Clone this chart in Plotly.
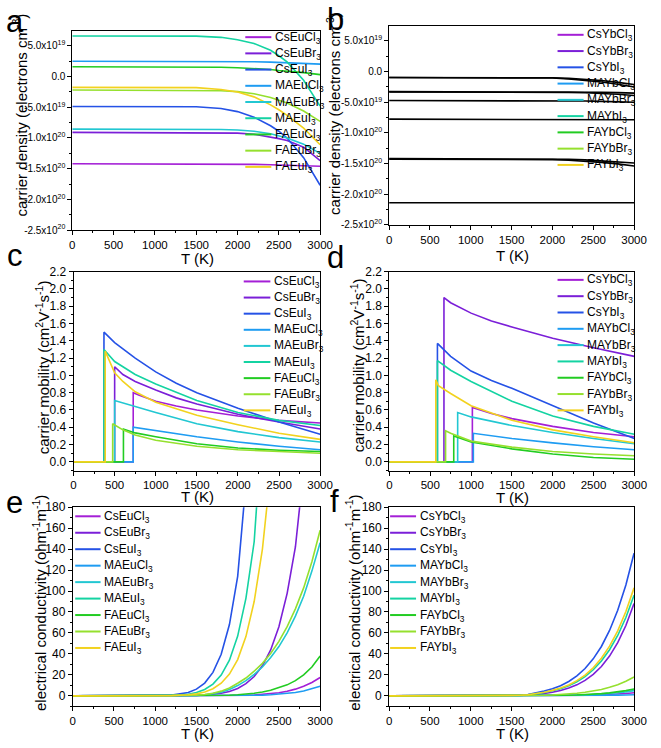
import plotly.graph_objects as go

W, H = 661, 748
FONT = "Liberation Sans, Arial, sans-serif"

COLORS = ["#A41FD6", "#7B1FD8", "#2552E6", "#1E9CF2", "#22C7D2",
          "#14D3A2", "#22CC22", "#95E02E", "#F2D21E"]

eu_names = ["CsEuCl<sub>3</sub>", "CsEuBr<sub>3</sub>", "CsEuI<sub>3</sub>",
            "MAEuCl<sub>3</sub>", "MAEuBr<sub>3</sub>", "MAEuI<sub>3</sub>",
            "FAEuCl<sub>3</sub>", "FAEuBr<sub>3</sub>", "FAEuI<sub>3</sub>"]
yb_names = ["CsYbCl<sub>3</sub>", "CsYbBr<sub>3</sub>", "CsYbI<sub>3</sub>",
            "MAYbCl<sub>3</sub>", "MAYbBr<sub>3</sub>", "MAYbI<sub>3</sub>",
            "FAYbCl<sub>3</sub>", "FAYbBr<sub>3</sub>", "FAYbI<sub>3</sub>"]

# ---------------- (a) carrier density, Eu (units of 1e19 cm^-3) ----------------
T_a = [0, 500, 1000, 1500, 1800, 2000, 2200, 2400, 2500, 2600, 2800, 3000]
dens_eu = [
    [-14.2, -14.2, -14.2, -14.2, -14.2, -14.25, -14.3, -14.35, -14.4, -14.45, -14.5, -14.6],
    [-9.08, -9.08, -9.08, -9.1, -9.15, -9.2, -9.4, -9.8, -10.1, -10.4, -11.5, -13.7],
    [-4.86, -4.86, -4.86, -4.9, -5.2, -5.7, -6.6, -8.0, -8.9, -10.0, -13.2, -17.7],
    [2.51, 2.51, 2.51, 2.51, 2.49, 2.46, 2.42, 2.36, 2.32, 2.28, 2.17, 2.03],
    [-8.55, -8.55, -8.55, -8.57, -8.62, -8.7, -8.9, -9.3, -9.6, -10.0, -11.0, -12.5],
    [6.62, 6.62, 6.62, 6.6, 6.4, 6.0, 5.4, 4.3, 3.4, 2.4, -0.6, -4.8],
    [1.6, 1.6, 1.6, 1.58, 1.52, 1.45, 1.35, 1.15, 1.0, 0.9, 0.65, 0.33],
    [-2.19, -2.19, -2.19, -2.2, -2.3, -2.45, -2.8, -3.4, -3.8, -4.3, -5.6, -7.3],
    [-1.76, -1.76, -1.76, -1.8, -2.1, -2.5, -3.3, -4.6, -5.4, -6.3, -8.4, -11.1],
]

# ---------------- (b) carrier density, Yb (units of 1e19 cm^-3) ----------------
T_b = [0, 1000, 1500, 2000, 2200, 2400, 2600, 2800, 3000]
dens_yb = [
    [-0.96, -0.96, -0.97, -1.0, -1.1, -1.25, -1.45, -1.75, -2.1],
    [-0.96, -0.96, -0.98, -1.05, -1.2, -1.4, -1.7, -2.05, -2.5],
    [-3.26, -3.26, -3.26, -3.28, -3.3, -3.33, -3.37, -3.43, -3.5],
    [-3.3, -3.3, -3.3, -3.33, -3.38, -3.45, -3.55, -3.7, -3.9],
    [-4.72, -4.72, -4.72, -4.74, -4.76, -4.8, -4.85, -4.92, -5.0],
    [-7.75, -7.75, -7.75, -7.76, -7.77, -7.78, -7.8, -7.82, -7.85],
    [-14.2, -14.2, -14.2, -14.25, -14.3, -14.4, -14.55, -14.7, -14.9],
    [-14.3, -14.3, -14.3, -14.35, -14.45, -14.6, -14.8, -15.05, -15.4],
    [-21.4, -21.4, -21.4, -21.4, -21.4, -21.4, -21.4, -21.4, -21.4],
]

# ---------------- (c) mobility, Eu ----------------
mob_eu_T = [
    [726, 800, 1000, 1250, 1500, 2000, 2500, 3000],
    [500, 600, 750, 1000, 1250, 1500, 2000, 2500, 3000],
    [370, 500, 750, 1000, 1250, 1500, 2000, 2500, 3000],
    [726, 1000, 1500, 2000, 2500, 3000],
    [500, 750, 1000, 1500, 2000, 2500, 3000],
    [370, 500, 750, 1000, 1500, 2000, 2500, 3000],
    [607, 750, 1000, 1500, 2000, 2500, 3000],
    [476, 600, 750, 1000, 1500, 2000, 2500, 3000],
    [385, 500, 600, 750, 1000, 1500, 2000, 2500, 3000],
]
mob_eu_v = [
    [0.80, 0.77, 0.70, 0.645, 0.60, 0.53, 0.48, 0.45],
    [1.10, 1.01, 0.93, 0.83, 0.74, 0.67, 0.55, 0.46, 0.38],
    [1.50, 1.38, 1.20, 1.04, 0.91, 0.80, 0.62, 0.46, 0.32],
    [0.40, 0.36, 0.29, 0.23, 0.18, 0.14],
    [0.71, 0.64, 0.57, 0.44, 0.35, 0.28, 0.23],
    [1.30, 1.16, 1.01, 0.90, 0.71, 0.57, 0.48, 0.42],
    [0.38, 0.335, 0.29, 0.21, 0.16, 0.135, 0.12],
    [0.44, 0.37, 0.31, 0.25, 0.18, 0.14, 0.12, 0.10],
    [1.28, 1.03, 0.93, 0.81, 0.69, 0.54, 0.43, 0.33, 0.26],
]

# ---------------- (d) mobility, Yb ----------------
mob_yb_T = [
    [1016, 1250, 1500, 2000, 2500, 3000],
    [668, 750, 1000, 1250, 1500, 2000, 2500, 3000],
    [588, 750, 1000, 1250, 1500, 2000, 2500, 3000],
    [1028, 1500, 2000, 2500, 3000],
    [836, 1000, 1500, 2000, 2500, 3000],
    [588, 750, 1000, 1500, 2000, 2500, 3000],
    [788, 1000, 1500, 2000, 2500, 3000],
    [688, 750, 1000, 1500, 2000, 2500, 3000],
    [568, 600, 750, 1000, 1500, 2000, 2500, 3000],
]
mob_yb_v = [
    [0.63, 0.56, 0.50, 0.41, 0.34, 0.29],
    [1.90, 1.84, 1.72, 1.63, 1.56, 1.43, 1.32, 1.22],
    [1.37, 1.22, 1.05, 0.94, 0.85, 0.65, 0.45, 0.27],
    [0.33, 0.27, 0.22, 0.175, 0.14],
    [0.57, 0.52, 0.42, 0.34, 0.27, 0.21],
    [1.17, 1.06, 0.93, 0.70, 0.53, 0.41, 0.32],
    [0.30, 0.23, 0.15, 0.09, 0.05, 0.03],
    [0.36, 0.33, 0.24, 0.17, 0.12, 0.09, 0.07],
    [0.95, 0.88, 0.79, 0.65, 0.48, 0.37, 0.29, 0.22],
]

# ---------------- (e)/(f) electrical conductivity ----------------
T_s = [0, 500, 1000, 1200, 1400, 1500, 1600, 1700, 1800, 1900, 2000,
       2100, 2200, 2300, 2400, 2500, 2600, 2700, 2800, 2900, 3000]
cond_eu = [
    [0, 0, 0, 0, 0, 0, 0, 0.02, 0.05, 0.1, 0.3, 0.5, 0.8, 1.3, 2.0, 3.0, 4.4, 6.4, 9.2, 12.8, 17.5],
    [0, 0, 0, 0.05, 0.2, 0.4, 0.75, 1.4, 2.5, 4.2, 7.1, 11.6, 18.4, 28.7, 43.8, 66, 97.8, 142, 205, 290, 407],
    [0, 0, 0.1, 0.7, 3.2, 6.4, 12.2, 22.4, 39.6, 68, 114, 185, 293, 450, 660, 940, 1300, 1750, 2300, 3000, 3800],
    [0, 0, 0, 0, 0, 0, 0, 0, 0.03, 0.08, 0.15, 0.25, 0.4, 0.65, 1.0, 1.5, 2.2, 3.2, 4.6, 6.6, 9.2],
    [0, 0, 0, 0.05, 0.2, 0.4, 0.9, 1.8, 3.4, 6.0, 9.8, 14.5, 20.5, 27.5, 36.5, 47, 60, 76, 95, 119, 146],
    [0, 0, 0.05, 0.35, 1.6, 3.2, 6.1, 11.2, 19.8, 34, 57, 93, 147, 230, 340, 490, 690, 950, 1280, 1700, 2200],
    [0, 0, 0, 0, 0.02, 0.05, 0.1, 0.2, 0.3, 0.6, 1.0, 1.6, 2.5, 3.7, 5.3, 8.0, 10.5, 14.5, 20, 27.5, 38],
    [0, 0, 0, 0.05, 0.3, 0.6, 1.3, 2.5, 4.5, 7.5, 12, 17, 23.5, 31, 40.5, 52, 66, 83, 103, 128, 158],
    [0, 0, 0.03, 0.2, 1.0, 1.9, 3.7, 6.8, 12, 20.8, 34.6, 56.5, 90, 140, 215, 320, 460, 640, 880, 1180, 1550],
]
cond_yb = [
    [0, 0, 0, 0, 0, 0, 0, 0, 0.02, 0.05, 0.1, 0.15, 0.25, 0.35, 0.5, 0.7, 1.0, 1.3, 1.8, 2.3, 3.0],
    [0, 0, 0, 0, 0, 0.05, 0.2, 0.5, 1.1, 2.0, 3.4, 5.1, 7.4, 10.5, 14.8, 20.5, 28, 37.9, 50.7, 67.1, 88],
    [0, 0, 0, 0, 0.1, 0.25, 0.6, 1.3, 2.6, 4.6, 6.8, 9.7, 13.7, 19.1, 26.1, 35.3, 47.1, 62.4, 81.6, 105.8, 136],
    [0, 0, 0, 0, 0, 0, 0, 0, 0, 0.02, 0.04, 0.06, 0.09, 0.13, 0.18, 0.25, 0.35, 0.5, 0.65, 0.8, 1.0],
    [0, 0, 0, 0, 0, 0, 0, 0.02, 0.05, 0.1, 0.15, 0.25, 0.4, 0.6, 0.85, 1.2, 1.6, 2.1, 2.9, 3.8, 5.0],
    [0, 0, 0, 0, 0.05, 0.2, 0.45, 0.9, 1.8, 3.2, 4.8, 6.8, 9.7, 13.5, 18.4, 24.9, 33.3, 44, 57.6, 74.7, 96],
    [0, 0, 0, 0, 0, 0, 0.02, 0.05, 0.08, 0.12, 0.2, 0.35, 0.55, 0.8, 1.1, 1.5, 2.1, 2.8, 3.7, 5.0, 6.5],
    [0, 0, 0, 0, 0, 0.02, 0.07, 0.15, 0.3, 0.5, 0.8, 1.2, 1.7, 2.5, 3.4, 4.6, 6.1, 8.1, 10.6, 13.9, 18],
    [0, 0, 0, 0, 0.05, 0.2, 0.5, 1.0, 2.0, 3.5, 5.2, 7.4, 10.4, 14.5, 19.8, 26.8, 35.8, 47.4, 62, 80.4, 103],
]

x_ticks = [0, 500, 1000, 1500, 2000, 2500, 3000]
dens_tickvals = [-25, -20, -15, -10, -5, 0, 5]
dens_ticktext = ["-2.5x10<sup>20</sup>", "-2.0x10<sup>20</sup>", "-1.5x10<sup>20</sup>",
                 "-1.0x10<sup>20</sup>", "-5.0x10<sup>19</sup>", "0.0", "5.0x10<sup>19</sup>"]


def fx(px):
    return px / W


def fy(py):
    return 1 - py / H


# plot areas in pixels: (left, right, top, bottom)
boxes = {
    1: (71, 325, 24, 227),
    2: (395.7, 646.7, 19, 221.7),
    3: (72.3, 325, 269.3, 471.7),
    4: (396, 647, 269.3, 471.7),
    5: (71.5, 325, 509, 711.7),
    6: (395.7, 646.7, 509, 711.7),
}

fig = go.Figure()
LW = 1.6


def add(i, x, y, color):
    fig.add_trace(go.Scatter(x=x, y=y, mode="lines", line=dict(color=color, width=LW),
                             xaxis="x" if i == 1 else f"x{i}", yaxis="y" if i == 1 else f"y{i}",
                             showlegend=False, hoverinfo="skip"))


for k in range(9):
    add(1, T_a, dens_eu[k], COLORS[k])
for k in range(9):
    add(2, T_b, dens_yb[k], "black")
for k in range(9):
    add(3, [0, mob_eu_T[k][0]] + mob_eu_T[k], [0, 0] + mob_eu_v[k], COLORS[k])
for k in range(9):
    add(4, [0, mob_yb_T[k][0]] + mob_yb_T[k], [0, 0] + mob_yb_v[k], COLORS[k])
for k in range(9):
    add(5, T_s, cond_eu[k], COLORS[k])
for k in range(9):
    add(6, T_s, cond_yb[k], COLORS[k])

layout = dict(width=W, height=H, margin=dict(l=0, r=0, t=0, b=0),
              paper_bgcolor="white", plot_bgcolor="white", showlegend=False,
              font=dict(family=FONT, color="black"))

yspec = {
    1: dict(range=[-25, 7.5], tickvals=dens_tickvals, ticktext=dens_ticktext,
            minor=dict(tickvals=[-22.5, -17.5, -12.5, -7.5, -2.5, 2.5])),
    2: dict(range=[-25, 7.5], tickvals=dens_tickvals, ticktext=dens_ticktext,
            minor=dict(tickvals=[-22.5, -17.5, -12.5, -7.5, -2.5, 2.5])),
    3: dict(range=[-0.1, 2.2], dtick=0.2, tick0=0, tickformat=".1f", minor=dict(dtick=0.1)),
    4: dict(range=[-0.1, 2.2], dtick=0.2, tick0=0, tickformat=".1f", minor=dict(dtick=0.1)),
    5: dict(range=[-10, 180], dtick=20, tick0=0, minor=dict(dtick=10)),
    6: dict(range=[-10, 180], dtick=20, tick0=0, minor=dict(dtick=10)),
}
ytick_size = {1: 10, 2: 10, 3: 12, 4: 12, 5: 12, 6: 12}

for i, (l, r, t, b) in boxes.items():
    xn = "xaxis" if i == 1 else f"xaxis{i}"
    yn = "yaxis" if i == 1 else f"yaxis{i}"
    xa = "x" if i == 1 else f"x{i}"
    ya = "y" if i == 1 else f"y{i}"
    common = dict(showline=True, linecolor="black", linewidth=1, mirror=True,
                  ticks="outside", ticklen=4, tickwidth=1, tickcolor="black",
                  showgrid=False, zeroline=False)
    layout[xn] = dict(domain=[fx(l), fx(r)], anchor=ya, range=[0, 3000],
                      tickvals=x_ticks,
                      tickfont=dict(family=FONT, size=11.5, color="black"),
                      minor=dict(dtick=250, tick0=0, ticks="outside",
                                 ticklen=2, tickcolor="black", showgrid=False),
                      **common)
    ys = dict(yspec[i])
    mn = ys.pop("minor")
    mn.update(ticks="outside", ticklen=2, tickcolor="black", showgrid=False)
    layout[yn] = dict(domain=[fy(b), fy(t)], anchor=xa, minor=mn,
                      tickfont=dict(family=FONT, size=ytick_size[i], color="black"),
                      **common, **ys)

fig.update_layout(**layout)

annotations = []
shapes = []

# panel letters
letters = [("a", 1, 14.6), ("b", 330, 13), ("c", 2, 253), ("d", 330, 254.6), ("e", 1, 504.6), ("f", 333, 503)]
for txt, x, y in letters:
    annotations.append(dict(text=txt, x=fx(x), y=fy(y), xref="paper", yref="paper",
                            xanchor="left", yanchor="middle", showarrow=False,
                            font=dict(family=FONT, size=31, color="black")))

# axis titles
TF = dict(family=FONT, size=15, color="black")
ytitles = [
    ("carrier density (electrons cm<sup>-3</sup>)", 16.7, 110),
    ("carrier density (electrons cm<sup>-3</sup>)", 338, 108),
    ("carrier mobility (cm<sup>2</sup>V<sup>-1</sup>s<sup>-1</sup>)", 40, 366.7),
    ("carrier mobility (cm<sup>2</sup>V<sup>-1</sup>s<sup>-1</sup>)", 363.3, 365),
    ("electrical conductivity (ohm<sup>-1</sup>m<sup>-1</sup>)", 36.7, 606.7),
    ("electrical conductivity (ohm<sup>-1</sup>m<sup>-1</sup>)", 358.3, 606.7),
]
for txt, x, y in ytitles:
    annotations.append(dict(text=txt, x=fx(x), y=fy(y), xref="paper", yref="paper",
                            xanchor="center", yanchor="middle", textangle=-90,
                            showarrow=False, font=TF, borderpad=0))
xtitles = [(199, 255.5), (522, 252.5), (199, 498.5), (522, 499.5), (199, 739), (522, 739)]
for x, y in xtitles:
    annotations.append(dict(text="T (K)", x=fx(x), y=fy(y), xref="paper", yref="paper",
                            xanchor="center", yanchor="middle", showarrow=False, font=TF,
                            borderpad=0))

# legends: (line x0, line x1, text x, first row y, spacing, names)
legends = [
    (248.3, 275, 277.7, 30.7, 16.5, eu_names),
    (568.3, 595, 597.3, 28.3, 16.55, yb_names),
    (246.7, 274, 276.7, 279.3, 16.4, eu_names),
    (568.3, 595, 597.7, 277.7, 16.6, yb_names),
    (74, 100, 102.7, 518.3, 16.75, eu_names),
    (396.7, 423.3, 426.7, 518.3, 16.75, yb_names),
]
LF = dict(family=FONT, size=12, color="black")
for x0, x1, xt, y0, dy, names in legends:
    for k, nm in enumerate(names):
        yy = y0 + k * dy
        shapes.append(dict(type="line", xref="paper", yref="paper",
                           x0=fx(x0), x1=fx(x1), y0=fy(yy), y1=fy(yy),
                           line=dict(color=COLORS[k], width=2)))
        annotations.append(dict(text=nm, x=fx(xt), y=fy(yy + 0.5), xref="paper", yref="paper",
                                xanchor="left", yanchor="middle", showarrow=False, font=LF,
                                borderpad=0))

fig.update_layout(annotations=annotations, shapes=shapes)
fig.write_html("out.html")
